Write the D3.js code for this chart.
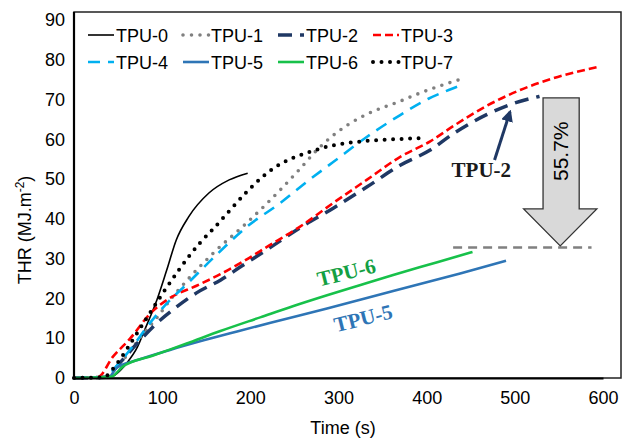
<!DOCTYPE html>
<html>
<head>
<meta charset="utf-8">
<script src="https://cdn.jsdelivr.net/npm/d3@7"></script>
<style>
  body { margin: 0; background: #fff; }
  text { font-family: "Liberation Sans", Arial, sans-serif; }
</style>
</head>
<body>
<figure id="chart" style="margin:0"></figure>
<script>
// data: time (s) and THR (MJ/m2)
const names = ["TPU-0", "TPU-1", "TPU-2", "TPU-3", "TPU-4", "TPU-5", "TPU-6", "TPU-7"];

const t0 = [0, 40, 60, 72, 80, 94, 105, 116, 130, 153, 176, 197];
const y0 = [0, 0.2, 3.8, 7.8, 12, 19.6, 27, 34.7, 40.5, 46.5, 49.8, 51.5];

const t1 = [0, 35, 50, 66, 80, 95, 108, 128, 158, 196, 234, 256, 275, 294, 313, 332, 370, 392, 420, 440];
const y1 = [0, 0.3, 3, 7.5, 11.5, 15.4, 19.3, 24.5, 31.4, 39, 47.3, 52.5, 57.2, 61, 64, 66.3, 69.6, 71.6, 73.8, 75.2];

const t2 = [0, 36, 52, 72, 94, 116, 139, 166, 192, 215, 256, 294, 332, 370, 404, 430, 468, 498, 528];
const y2 = [0, 0.2, 3.8, 8.8, 13.8, 17.8, 21.4, 24.6, 28.4, 31.7, 37.7, 42.7, 48, 53.5, 57.3, 61.4, 66.2, 69, 70.8];

const t3 = [0, 27, 44, 64, 86, 108, 139, 166, 192, 222, 256, 294, 332, 370, 404, 430, 468, 506, 543, 594];
const y3 = [0, 0.2, 5.3, 10, 16.1, 20, 23.2, 26.1, 29.3, 33.4, 38, 44, 49.8, 55.6, 59.5, 63.3, 68.4, 72.4, 75.3, 78.2];

const t4 = [0, 35, 50, 66, 86, 108, 128, 158, 196, 234, 265, 294, 332, 370, 402, 425, 443];
const y4 = [0, 0.2, 3.5, 7.8, 13.8, 19.4, 23.6, 30.2, 38, 44, 49.5, 54.3, 60.6, 66.1, 70.2, 72.4, 73.9];

const t5 = [0, 40, 48, 72, 108, 146, 185, 223, 287, 362, 438, 490];
const y5 = [0, 0.3, 2.5, 4.5, 7, 9.4, 11.7, 13.9, 17.5, 21.9, 26.3, 29.5];

const t6 = [0, 42, 55, 89, 127, 166, 212, 249, 287, 325, 362, 412, 452];
const y6 = [0, 0.3, 2.8, 5.6, 8.6, 11.8, 15.3, 18.1, 20.8, 23.4, 25.9, 29.1, 31.7];

const t7 = [0, 33, 50, 65, 86, 101, 120, 143, 158, 196, 215, 234, 250, 264, 294, 332, 370, 395];
const y7 = [0, 0.2, 4, 9, 16.3, 21.4, 27.5, 34, 37.5, 46.8, 50.8, 53.8, 55.5, 56.6, 58.5, 59.6, 60.1, 60.3];

const xTicks = [0, 100, 200, 300, 400, 500, 600];
const yTicks = [0, 10, 20, 30, 40, 50, 60, 70, 80, 90];

// annotation values (data units)
const reductionLevel = 32.8;
const reductionSpan = [430, 587];
const arrowShaft = [532, 573];
const arrowHead = [510, 593];
const arrowTop = 70.4, arrowNeck = 42.5, arrowTip = 33.2;

const times = [t0, t1, t2, t3, t4, t5, t6, t7];
const values = [y0, y1, y2, y3, y4, y5, y6, y7];

const styles = [
  {color: "#000000", width: 1.6, dash: null, cap: "butt"},
  {color: "#808080", width: 3.6, dash: "0,8.5", cap: "round"},
  {color: "#1f3864", width: 3.5, dash: "14,8", cap: "butt"},
  {color: "#ff0000", width: 2.6, dash: "8,4", cap: "butt"},
  {color: "#00b0f0", width: 2.6, dash: "12,8", cap: "butt"},
  {color: "#2e75b6", width: 2.6, dash: null, cap: "butt"},
  {color: "#17c14a", width: 2.6, dash: null, cap: "butt"},
  {color: "#000000", width: 4, dash: "0,8.5", cap: "round"}
];

const W = 622, H = 440;
const svg = d3.select("#chart").append("svg")
  .attr("width", W).attr("height", H);

const x = d3.scaleLinear().domain([0, 600]).range([74, 603]);
const y = d3.scaleLinear().domain([0, 90]).range([378, 20]);

// frame
svg.append("rect")
  .attr("x", 74).attr("y", 12)
  .attr("width", 547).attr("height", 366)
  .attr("fill", "none").attr("stroke", "#222").attr("stroke-width", 1.5);

const line = d3.line()
  .x(d => x(d[0]))
  .y(d => y(d[1]))
  .curve(d3.curveMonotoneX);

// series
names.forEach((n, i) => {
  const pts = times[i].map((t, j) => [t, values[i][j]]);
  const s = styles[i];
  svg.append("path")
    .datum(pts)
    .attr("d", line)
    .attr("fill", "none")
    .attr("stroke", s.color)
    .attr("stroke-width", s.width)
    .attr("stroke-dasharray", s.dash)
    .attr("stroke-linecap", s.cap);
});

// axes
const xAxis = svg.append("g")
  .attr("transform", "translate(0,378)")
  .call(d3.axisBottom(x).tickValues(xTicks).tickSize(0).tickPadding(13));
xAxis.select(".domain").attr("stroke", "#000").attr("stroke-width", 2.2);
xAxis.selectAll("text").style("font-size", "18px").attr("fill", "#000")
  .style("font-family", "'Liberation Sans', Arial, sans-serif");

const yAxis = svg.append("g")
  .attr("transform", "translate(74,0)")
  .call(d3.axisLeft(y).tickValues(yTicks).tickSize(0).tickPadding(9));
yAxis.select(".domain").remove();
svg.append("line")
  .attr("x1", 74).attr("x2", 74).attr("y1", 12).attr("y2", 379)
  .attr("stroke", "#000").attr("stroke-width", 2.2);
yAxis.selectAll("text").style("font-size", "18px").attr("fill", "#000")
  .style("font-family", "'Liberation Sans', Arial, sans-serif");

// axis titles
svg.append("text")
  .attr("x", 343).attr("y", 434)
  .attr("text-anchor", "middle")
  .style("font-size", "18px")
  .text("Time (s)");

const yt = svg.append("text")
  .attr("transform", "translate(31,230) rotate(-90)")
  .attr("text-anchor", "middle")
  .style("font-size", "18px");
yt.append("tspan").text("THR (MJ.m");
yt.append("tspan").attr("dy", -7).style("font-size", "12px").text("-2");
yt.append("tspan").attr("dy", 7).text(")");

// legend
const legCols = [88, 183, 278, 373];
const legRows = [35, 62];
names.forEach((n, i) => {
  const lx = legCols[i % 4], ly = legRows[Math.floor(i / 4)];
  const s = styles[i];
  svg.append("line")
    .attr("x1", lx).attr("x2", lx + 26)
    .attr("y1", ly).attr("y2", ly)
    .attr("stroke", s.color)
    .attr("stroke-width", s.width)
    .attr("stroke-dasharray", s.dash)
    .attr("stroke-linecap", s.cap);
  svg.append("text")
    .attr("x", lx + 28).attr("y", ly + 6.5)
    .style("font-size", "18px")
    .text(n);
});

// reduction marker
svg.append("line")
  .attr("x1", x(reductionSpan[0])).attr("x2", x(reductionSpan[1]))
  .attr("y1", y(reductionLevel)).attr("y2", y(reductionLevel))
  .attr("stroke", "#808080").attr("stroke-width", 2.5)
  .attr("stroke-dasharray", "9,6");

const arrowPts = [
  [arrowShaft[0], arrowTop], [arrowShaft[1], arrowTop],
  [arrowShaft[1], arrowNeck], [arrowHead[1], arrowNeck],
  [(arrowHead[0] + arrowHead[1]) / 2, arrowTip],
  [arrowHead[0], arrowNeck], [arrowShaft[0], arrowNeck]
];
svg.append("polygon")
  .attr("points", arrowPts.map(p => x(p[0]) + "," + y(p[1])).join(" "))
  .attr("fill", "#d9d9d9")
  .attr("stroke", "#333").attr("stroke-width", 1.3);

svg.append("text")
  .attr("transform", `translate(${x(552) + 7},${y(57)}) rotate(-90)`)
  .attr("text-anchor", "middle")
  .style("font-size", "21px")
  .text("55.7%");

// TPU-2 callout
svg.append("defs").append("marker")
  .attr("id", "ah").attr("viewBox", "0 0 10 10")
  .attr("refX", 8).attr("refY", 5)
  .attr("markerWidth", 4).attr("markerHeight", 4)
  .attr("orient", "auto")
  .append("path").attr("d", "M0,0 L10,5 L0,10 z").attr("fill", "#1f3864");

svg.append("line")
  .attr("x1", x(477)).attr("y1", y(54.8))
  .attr("x2", x(494.5)).attr("y2", y(66.9))
  .attr("stroke", "#1f3864").attr("stroke-width", 3)
  .attr("marker-end", "url(#ah)");

const serif = "'Liberation Serif', 'Times New Roman', serif";
svg.append("text")
  .attr("x", x(462)).attr("y", y(50.5))
  .attr("text-anchor", "middle")
  .style("font-family", serif).style("font-weight", "bold")
  .style("font-size", "21px").attr("fill", "#1a1a1a")
  .text("TPU-2");

svg.append("text")
  .attr("transform", `translate(${x(311)},${y(24.8)}) rotate(-14)`)
  .attr("text-anchor", "middle")
  .style("font-family", serif).style("font-weight", "bold")
  .style("font-size", "21px").attr("fill", "#13a043")
  .text("TPU-6");

svg.append("text")
  .attr("transform", `translate(${x(330)},${y(13.3)}) rotate(-14)`)
  .attr("text-anchor", "middle")
  .style("font-family", serif).style("font-weight", "bold")
  .style("font-size", "21px").attr("fill", "#2e75b6")
  .text("TPU-5");
</script>
</body>
</html>
